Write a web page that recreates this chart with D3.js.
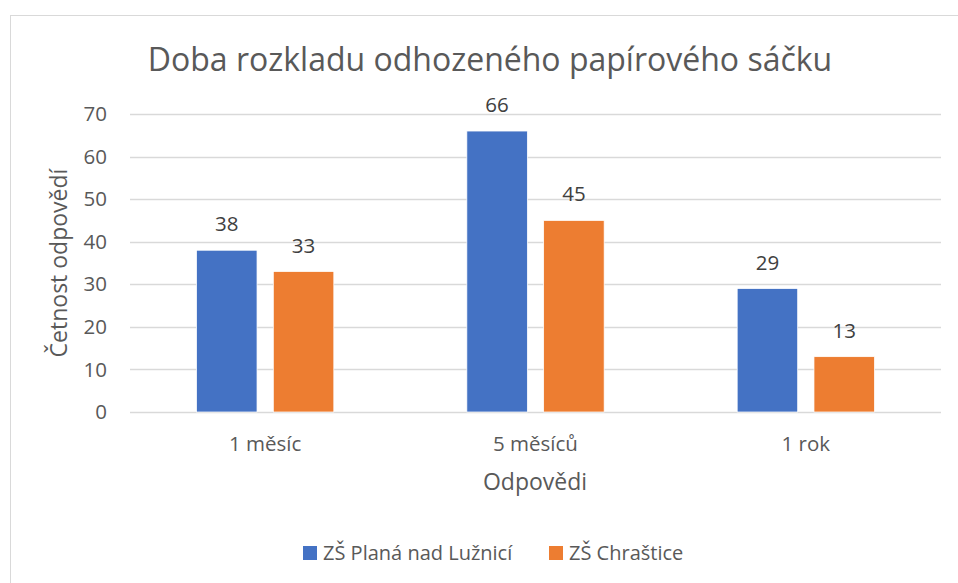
<!DOCTYPE html>
<html>
<head>
<meta charset="utf-8">
<script src="https://cdn.jsdelivr.net/npm/d3@7"></script>
<style>
  body { margin: 0; background: #fff; }
  text { font-family: "Open Sans", "Noto Sans", sans-serif; }
</style>
</head>
<body>
<script>
var categories = ['1 měsíc', '5 měsíců', '1 rok'];
var seriesNames = ['ZŠ Planá nad Lužnicí', 'ZŠ Chraštice'];
var plana = [38, 66, 29];
var chrastice = [33, 45, 13];
var yTicks = [0, 10, 20, 30, 40, 50, 60, 70];
var colors = ['#4472c4', '#ed7d31'];

var values = [plana, chrastice];
var rows = categories.map(function(c, i) {
	return { cat: c, vals: values.map(function(v, s) { return { s: s, v: v[i] }; }) };
});

var svg = d3.select('body')
	.append('svg')
	.attr('width', 958)
	.attr('height', 583);

// chart area border
svg.append('rect')
	.attr('x', 10.5).attr('y', 15.5)
	.attr('width', 960).attr('height', 600)
	.attr('fill', 'none')
	.attr('stroke', '#d9d9d9');

var x0 = d3.scaleBand().domain(categories).range([130, 941]);
var x1 = d3.scaleBand().domain([0, 1]).range([0, x0.bandwidth()])
	.paddingInner(0.212).paddingOuter(0.866);
var y = d3.scaleLinear().domain([0, 70]).range([412, 114]);

// gridlines
svg.append('g')
	.selectAll('line')
	.data(yTicks)
	.enter().append('line')
	.attr('x1', 130).attr('x2', 941)
	.attr('y1', function(d) { return Math.round(y(d)) + .5; })
	.attr('y2', function(d) { return Math.round(y(d)) + .5; })
	.attr('stroke', '#d9d9d9')
	.attr('stroke-width', 1.5);

// y tick labels
svg.append('g')
	.selectAll('text')
	.data(yTicks)
	.enter().append('text')
	.attr('x', 107)
	.attr('y', function(d) { return y(d); })
	.attr('dy', '0.35em')
	.attr('text-anchor', 'end')
	.attr('font-size', 20.5)
	.attr('fill', '#595959')
	.text(function(d) { return d; });

var groups = svg.selectAll('g.cat')
	.data(rows)
	.enter().append('g')
	.attr('class', 'cat')
	.attr('transform', function(d) { return 'translate(' + x0(d.cat) + ',0)'; });

groups.selectAll('rect')
	.data(function(d) { return d.vals; })
	.enter().append('rect')
	.attr('x', function(d) { return x1(d.s); })
	.attr('y', function(d) { return y(d.v); })
	.attr('width', x1.bandwidth())
	.attr('height', function(d) { return y(0) - y(d.v); })
	.attr('fill', function(d) { return colors[d.s]; })
	.attr('stroke', '#fff')
	.attr('stroke-width', 0.75);

// data labels
groups.selectAll('text')
	.data(function(d) { return d.vals; })
	.enter().append('text')
	.attr('x', function(d) { return x1(d.s) + x1.bandwidth() / 2; })
	.attr('y', function(d) { return y(d.v) - 19; })
	.attr('text-anchor', 'middle')
	.attr('font-size', 20.5)
	.attr('fill', '#404040')
	.text(function(d) { return d.v; });

// category labels
svg.append('g')
	.selectAll('text')
	.data(categories)
	.enter().append('text')
	.attr('x', function(d) { return x0(d) + x0.bandwidth() / 2; })
	.attr('y', 451)
	.attr('text-anchor', 'middle')
	.attr('font-size', 20.5)
	.attr('fill', '#595959')
	.text(function(d) { return d; });

// title
svg.append('text')
	.attr('x', 490).attr('y', 71)
	.attr('text-anchor', 'middle')
	.attr('font-size', 32)
	.attr('fill', '#595959')
	.text('Doba rozkladu odhozeného papírového sáčku');

// axis titles
svg.append('text')
	.attr('x', 535).attr('y', 490)
	.attr('text-anchor', 'middle')
	.attr('font-size', 23)
	.attr('fill', '#595959')
	.text('Odpovědi');

svg.append('text')
	.attr('transform', 'translate(67,263) rotate(-90)')
	.attr('text-anchor', 'middle')
	.attr('font-size', 23)
	.attr('fill', '#595959')
	.text('Četnost odpovědí');

// legend
var legendX = [303, 549];
var legend = svg.selectAll('g.legend')
	.data(seriesNames)
	.enter().append('g')
	.attr('class', 'legend')
	.attr('transform', function(d, i) { return 'translate(' + legendX[i] + ',546)'; });

legend.append('rect')
	.attr('width', 14).attr('height', 14)
	.attr('fill', function(d, i) { return colors[i]; });

legend.append('text')
	.attr('x', 20).attr('y', 7)
	.attr('dy', '0.35em')
	.attr('font-size', 20)
	.attr('fill', '#595959')
	.text(function(d) { return d; });
</script>
</body>
</html>
